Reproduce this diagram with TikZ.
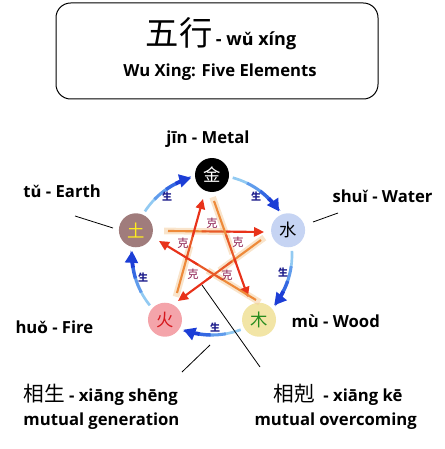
\documentclass[tikz,border=0pt]{standalone}
\usepackage{fontspec}
\setmainfont{Open Sans}
\newfontfamily\cjk{Noto Sans CJK SC}
\newfontfamily\pyfont{DejaVu Sans}[Scale=0.92]
\usetikzlibrary{arrows.meta,calc}

\definecolor{shengdark}{RGB}{28,62,214}
\definecolor{shengmidb}{RGB}{52,104,226}
\definecolor{shengmida}{RGB}{96,156,236}
\definecolor{shenglight}{RGB}{146,202,242}
\definecolor{shengtext}{RGB}{30,30,140}
\definecolor{kered}{RGB}{232,50,26}
\definecolor{kemid}{RGB}{232,90,40}
\definecolor{keorange}{RGB}{238,138,58}
\definecolor{kebandcol}{RGB}{244,206,160}
\definecolor{ketext}{RGB}{140,28,78}
\definecolor{waterfill}{RGB}{198,212,243}
\definecolor{woodfill}{RGB}{242,229,166}
\definecolor{woodchar}{RGB}{40,140,30}
\definecolor{firefill}{RGB}{244,164,170}
\definecolor{firechar}{RGB}{214,24,30}
\definecolor{earthfill}{RGB}{160,124,124}
\definecolor{earthchar}{RGB}{255,238,30}

\tikzset{every picture/.style={line width=0.75pt}}
\tikzset{
  element/.style={circle, minimum size=25.5pt, inner sep=0pt, font=\cjk\fontsize{13}{13}\selectfont},
  namelbl/.style={anchor=base west, inner sep=0.75pt, font=\bfseries\fontsize{12.5}{15}\selectfont},
  shengmark/.style={inner sep=0pt, text=shengtext, font=\cjk\bfseries\fontsize{7.5}{8}\selectfont},
  kemark/.style={inner sep=0pt, text=ketext, font=\cjk\fontsize{8.5}{9}\selectfont},
  shengA/.style={draw=shenglight, line width=2pt},
  shengB/.style={draw=shengmida, line width=2.3pt},
  shengC/.style={draw=shengmidb, line width=2.6pt},
  shengD/.style={draw=shengdark, line width=2.9pt, -{Triangle[length=9pt,width=9.5pt]}},
  keband/.style={draw=kebandcol, line width=5pt, draw opacity=0.55},
  keline/.style={draw=keorange, line width=1.6pt},
  kelinemid/.style={draw=kemid, line width=1.6pt},
  kehead/.style={draw=kered, line width=1.6pt, -{Triangle[length=7.5pt,width=7pt]}},
  leader/.style={draw=black, line width=0.6pt}
}

\begin{document}
\begin{tikzpicture}[x=0.75pt,y=0.75pt,yscale=-1,xscale=1]
\useasboundingbox (0,0) rectangle (444,449);

%Rounded Rect
\draw [rounded corners=11pt] (56,3) rectangle (378,99) ;
% Text Node
\node [anchor=base, inner sep=0.75pt] (title) at (221,46) {{\cjk\fontsize{25}{25}\selectfont 五行} {\bfseries\fontsize{13.5}{15}\selectfont - w{\pyfont ǔ} xíng}};
% Text Node
\node [anchor=base, inner sep=0.75pt, font=\bfseries\fontsize{12.5}{15}\selectfont] (subtitle) at (220,77) {Wu Xing: Five Elements};

\coordinate (wx) at (212,255);

%Shape: Circle
\node [element, fill=black, text=white] (metal) at ($(wx)+(-90:80)$) {金};
%Shape: Circle
\node [element, fill=waterfill, text=black] (water) at ($(wx)+(-18:80)$) {水};
%Shape: Circle
\node [element, fill=woodfill, text=woodchar] (wood) at ($(wx)+(54:80)$) {木};
%Shape: Circle
\node [element, fill=firefill, text=firechar] (fire) at ($(wx)+(126:80)$) {火};
%Shape: Circle
\node [element, fill=earthfill, text=earthchar] (earth) at ($(wx)+(198:80)$) {土};

%Curve Lines  earth -> metal
\draw [shengA] ($(wx)+(-147:80)$) arc [start angle=-147, end angle=-135, radius=80] ;
\draw [shengB] ($(wx)+(-136:80)$) arc [start angle=-136, end angle=-124, radius=80] ;
\draw [shengC] ($(wx)+(-125:80)$) arc [start angle=-125, end angle=-116, radius=80] ;
\draw [shengD] ($(wx)+(-117:80)$) arc [start angle=-117, end angle=-105, radius=80] ;
%Curve Lines  metal -> water
\draw [shengA] ($(wx)+(-75:80)$) arc [start angle=-75, end angle=-63, radius=80] ;
\draw [shengB] ($(wx)+(-64:80)$) arc [start angle=-64, end angle=-52, radius=80] ;
\draw [shengC] ($(wx)+(-53:80)$) arc [start angle=-53, end angle=-44, radius=80] ;
\draw [shengD] ($(wx)+(-45:80)$) arc [start angle=-45, end angle=-33, radius=80] ;
%Curve Lines  water -> wood
\draw [shengA] ($(wx)+(-3:80)$) arc [start angle=-3, end angle=9, radius=80] ;
\draw [shengB] ($(wx)+(8:80)$) arc [start angle=8, end angle=20, radius=80] ;
\draw [shengC] ($(wx)+(19:80)$) arc [start angle=19, end angle=28, radius=80] ;
\draw [shengD] ($(wx)+(27:80)$) arc [start angle=27, end angle=39, radius=80] ;
%Curve Lines  wood -> fire
\draw [shengA] ($(wx)+(69:80)$) arc [start angle=69, end angle=81, radius=80] ;
\draw [shengB] ($(wx)+(80:80)$) arc [start angle=80, end angle=92, radius=80] ;
\draw [shengC] ($(wx)+(91:80)$) arc [start angle=91, end angle=100, radius=80] ;
\draw [shengD] ($(wx)+(99:80)$) arc [start angle=99, end angle=111, radius=80] ;
%Curve Lines  fire -> earth
\draw [shengA] ($(wx)+(141:80)$) arc [start angle=141, end angle=153, radius=80] ;
\draw [shengB] ($(wx)+(152:80)$) arc [start angle=152, end angle=164, radius=80] ;
\draw [shengC] ($(wx)+(163:80)$) arc [start angle=163, end angle=172, radius=80] ;
\draw [shengD] ($(wx)+(171:80)$) arc [start angle=171, end angle=183, radius=80] ;

% Text Node
\node [shengmark] (s1) at (167,197) {生};
% Text Node
\node [shengmark] (s2) at (256,197) {生};
% Text Node
\node [shengmark] (s3) at (283,273) {生};
% Text Node
\node [shengmark] (s4) at (215,328) {生};
% Text Node
\node [shengmark] (s5) at (143,278) {生};

\coordinate (k1s) at (168,231); \coordinate (k1e) at (264,232);
\coordinate (k2s) at (261,240); \coordinate (k2e) at (178,301);
\coordinate (k3s) at (177,293); \coordinate (k3e) at (203,199);
\coordinate (k4s) at (214,201); \coordinate (k4e) at (248,297);
\coordinate (k5s) at (256,300); \coordinate (k5e) at (159,241);

%Straight Lines
\draw [keband] ($(k1s)!-0.04!(k1e)$) -- ($(k1s)!0.6!(k1e)$) ;
\draw [keband] ($(k2s)!-0.04!(k2e)$) -- ($(k2s)!0.5!(k2e)$) ;
\draw [keband] ($(k3s)!-0.04!(k3e)$) -- ($(k3s)!0.5!(k3e)$) ;
\draw [keband] ($(k4s)!-0.04!(k4e)$) -- ($(k4s)!0.55!(k4e)$) ;
\draw [keband] ($(k5s)!-0.04!(k5e)$) -- ($(k5s)!0.5!(k5e)$) ;
%Straight Lines
\draw [keline] (k1s) -- ($(k1s)!0.4!(k1e)$) ;
\draw [kelinemid] ($(k1s)!0.35!(k1e)$) -- ($(k1s)!0.65!(k1e)$) ;
\draw [kehead] ($(k1s)!0.6!(k1e)$) -- (k1e) ;
\draw [keline] (k2s) -- ($(k2s)!0.4!(k2e)$) ;
\draw [kelinemid] ($(k2s)!0.35!(k2e)$) -- ($(k2s)!0.65!(k2e)$) ;
\draw [kehead] ($(k2s)!0.6!(k2e)$) -- (k2e) ;
\draw [keline] (k3s) -- ($(k3s)!0.4!(k3e)$) ;
\draw [kelinemid] ($(k3s)!0.35!(k3e)$) -- ($(k3s)!0.65!(k3e)$) ;
\draw [kehead] ($(k3s)!0.6!(k3e)$) -- (k3e) ;
\draw [keline] (k4s) -- ($(k4s)!0.4!(k4e)$) ;
\draw [kelinemid] ($(k4s)!0.35!(k4e)$) -- ($(k4s)!0.65!(k4e)$) ;
\draw [kehead] ($(k4s)!0.6!(k4e)$) -- (k4e) ;
\draw [keline] (k5s) -- ($(k5s)!0.4!(k5e)$) ;
\draw [kelinemid] ($(k5s)!0.35!(k5e)$) -- ($(k5s)!0.65!(k5e)$) ;
\draw [kehead] ($(k5s)!0.6!(k5e)$) -- (k5e) ;

% Text Node
\node [kemark] (k1) at (212,223) {克};
% Text Node
\node [kemark] (k2) at (227,275) {克};
% Text Node
\node [kemark] (k3) at (193,274) {克};
% Text Node
\node [kemark] (k4) at (238,242) {克};
% Text Node
\node [kemark] (k5) at (183,243) {克};

% Text Node
\node [namelbl, anchor=base] (jin) at (208,143) {jīn - Metal};
% Text Node
\node [namelbl] (shui) at (331,202) {shu{\pyfont ǐ} - Water};
% Text Node
\node [namelbl] (tu) at (22,197) {t{\pyfont ǔ} - Earth};
% Text Node
\node [namelbl] (huo) at (14,333) {hu{\pyfont ǒ} - Fire};
% Text Node
\node [namelbl] (mu) at (290,327) {mù - Wood};

% Text Node
\node [namelbl] (xs) at (22,401) {{\cjk\mdseries\fontsize{15.5}{16}\selectfont 相生} - xiāng shēng};
% Text Node
\node [namelbl] (xsen) at (22,425) {mutual generation};
% Text Node
\node [namelbl] (xk) at (272,401) {{\cjk\mdseries\fontsize{15.5}{16}\selectfont 相剋}\ \ - xiāng kē};
% Text Node
\node [namelbl] (xken) at (253,425) {mutual overcoming};

\coordinate (tuA) at (75,216); \coordinate (tuB) at (113,228);
\coordinate (shuiA) at (313,222); \coordinate (shuiB) at (338,213);
\coordinate (xsA) at (210,345); \coordinate (xsB) at (182,372);
\coordinate (xkA) at (202,285); \coordinate (xkB) at (260,367);
%Straight Lines
\draw [leader] (tuA) -- (tuB) ;
%Straight Lines
\draw [leader] (shuiA) -- (shuiB) ;
%Straight Lines
\draw [leader] (xsA) -- (xsB) ;
%Straight Lines
\draw [leader] (xkA) -- (xkB) ;
\end{tikzpicture}
\end{document}
